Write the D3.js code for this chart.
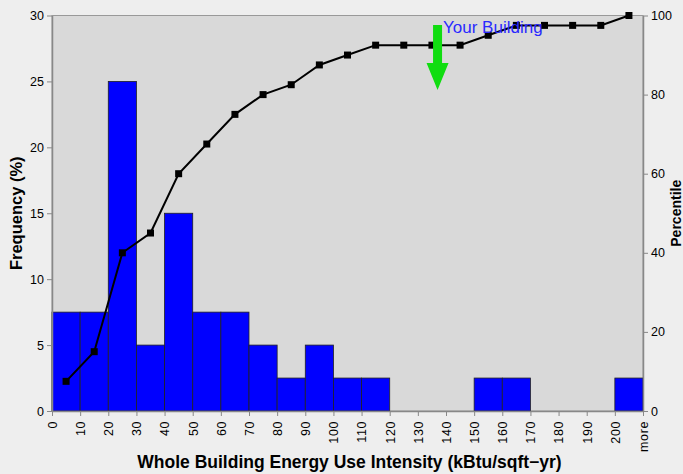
<!DOCTYPE html>
<html>
<head>
<meta charset="utf-8">
<script src="https://cdn.jsdelivr.net/npm/d3@7"></script>
<style>
  html, body { margin: 0; padding: 0; background: #eeeeee; }
  svg { display: block; }
  text { font-family: "Liberation Sans", Arial, Helvetica, sans-serif; }
</style>
</head>
<body>
<script>
// ---- data ----
const binLabels = ["0","10","20","30","40","50","60","70","80","90","100","110","120","130","140","150","160","170","180","190","200","more"];
const frequency = [7.5,7.5,25,5,15,7.5,7.5,5,2.5,5,2.5,2.5,0,0,0,2.5,2.5,0,0,0,2.5];
const percentile = [7.5,15,40,45,60,67.5,75,80,82.5,87.5,90,92.5,92.5,92.5,92.5,95,97.5,97.5,97.5,97.5,100];
const freqTicks = [0,5,10,15,20,25,30];
const pctTicks = [0,20,40,60,80,100];
const yourBuildingEUI = 137;
const binWidth = 10;

// ---- layout ----
const W = 683, H = 474;
const L = 52, R = 643, T = 15.5, B = 411;

const svg = d3.select("body").append("svg").attr("width", W).attr("height", H);

const x = d3.scaleLinear().domain([0, frequency.length]).range([L, R]);
const yL = d3.scaleLinear().domain([0, 30]).range([B, T]);
const yR = d3.scaleLinear().domain([0, 100]).range([B, T]);

// plot background
svg.append("rect").attr("x", L).attr("y", T).attr("width", R - L).attr("height", B - T)
  .attr("fill", "#d9d9d9").attr("stroke", "#999").attr("stroke-width", 1);

// bars
svg.append("g").selectAll("rect").data(frequency.map((v, i) => ({v, i})).filter(d => d.v > 0))
  .join("rect")
  .attr("x", d => x(d.i)).attr("width", d => x(d.i + 1) - x(d.i))
  .attr("y", d => yL(d.v)).attr("height", d => yL(0) - yL(d.v))
  .attr("fill", "#0000ff").attr("stroke", "#222").attr("stroke-width", 0.8);

// axes
const axisStyle = g => {
  g.selectAll(".domain").attr("stroke", "#888").attr("stroke-width", 1.5);
  g.selectAll(".tick line").attr("stroke", "#888");
  g.selectAll(".tick text").attr("fill", "#000");
};

svg.append("g").attr("transform", `translate(${L},0)`)
  .call(d3.axisLeft(yL).tickValues(freqTicks).tickSize(5).tickPadding(3).tickSizeOuter(0))
  .call(axisStyle)
  .call(g => g.selectAll(".tick text").attr("font-size", 12.5));

svg.append("g").attr("transform", `translate(${R},0)`)
  .call(d3.axisRight(yR).tickValues(pctTicks).tickSize(5).tickPadding(3).tickSizeOuter(0))
  .call(axisStyle)
  .call(g => g.selectAll(".tick text").attr("font-size", 12.5));

svg.append("g").attr("transform", `translate(0,${B})`)
  .call(d3.axisBottom(x).tickValues(d3.range(binLabels.length)).tickFormat(i => binLabels[i])
    .tickSize(5).tickSizeOuter(0))
  .call(axisStyle)
  .call(g => g.selectAll(".tick text")
    .attr("font-size", 12.5)
    .attr("letter-spacing", 0.6)
    .attr("text-anchor", "end")
    .attr("transform", "rotate(-90)")
    .attr("x", -10).attr("y", 0).attr("dy", "0.35em"));

// percentile line
const line = d3.line().x((d, i) => x(i + 0.5)).y(d => yR(d));
svg.append("path").datum(percentile).attr("d", line)
  .attr("fill", "none").attr("stroke", "#000").attr("stroke-width", 2);
svg.append("g").selectAll("rect").data(percentile).join("rect")
  .attr("x", (d, i) => x(i + 0.5) - 3.5).attr("y", d => yR(d) - 3.5)
  .attr("width", 7).attr("height", 7).attr("fill", "#000");

// your building arrow
const ax = x(yourBuildingEUI / binWidth);
const arrow = d3.path();
arrow.moveTo(ax - 4.5, 25); arrow.lineTo(ax + 4.5, 25); arrow.lineTo(ax + 4.5, 63);
arrow.lineTo(ax + 11, 63); arrow.lineTo(ax, 90); arrow.lineTo(ax - 11, 63);
arrow.lineTo(ax - 4.5, 63); arrow.closePath();
svg.append("path").attr("d", arrow.toString()).attr("fill", "#11dd11");
svg.append("text").attr("x", ax + 5.5).attr("y", 33)
  .attr("font-size", 17).attr("fill", "#2a2aff").text("Your Building");

// axis titles
svg.append("text").attr("x", (L + R) / 2 + 2).attr("y", 468).attr("text-anchor", "middle")
  .attr("font-size", 17.5).attr("font-weight", "bold").text("Whole Building Energy Use Intensity (kBtu/sqft\u2212yr)");
svg.append("text").attr("transform", `translate(22,${(T + B) / 2}) rotate(-90)`)
  .attr("text-anchor", "middle").attr("font-size", 16.5).attr("font-weight", "bold").text("Frequency (%)");
svg.append("text").attr("transform", `translate(681,${(T + B) / 2}) rotate(-90)`)
  .attr("text-anchor", "middle").attr("font-size", 14).attr("font-weight", "bold").text("Percentile");
</script>
</body>
</html>
